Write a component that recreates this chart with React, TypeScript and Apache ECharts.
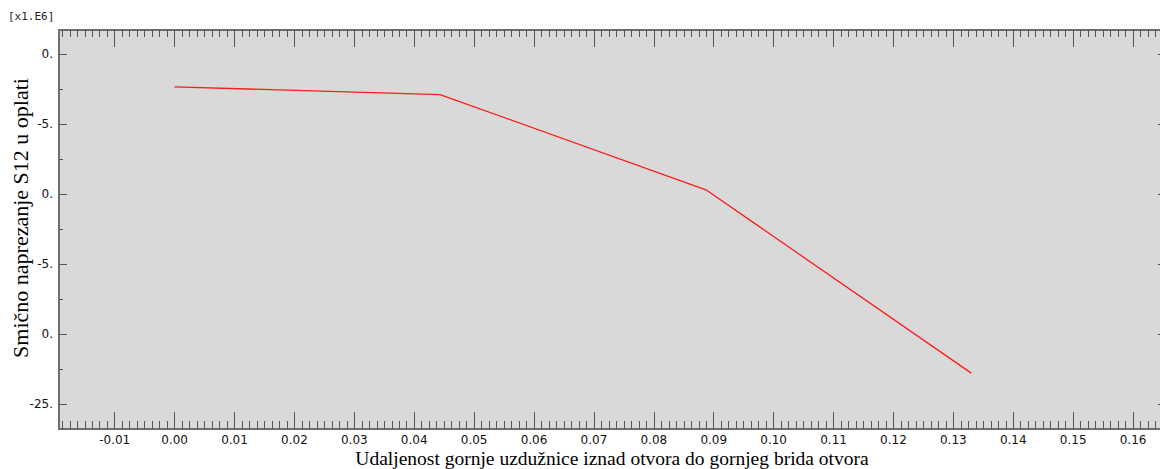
import React, { useEffect, useRef } from "react";
import * as echarts from "echarts";

// distance values (m) and shear stress S12 (x1.E6)
const distance = [0, 0.0443, 0.0887, 0.133];
const stressS12 = [-2.35, -2.9, -9.7, -22.8];

const xMajorTicks = [-0.01, 0, 0.01, 0.02, 0.03, 0.04, 0.05, 0.06, 0.07, 0.08, 0.09, 0.1, 0.11, 0.12, 0.13, 0.14, 0.15, 0.16];
const yMajorTicks = [0, -5, -10, -15, -20, -25];
const yTickLabels = ["0.", "-5.", "0.", "-5.", "0.", "-25."];
const yMinorTicks = [-2.5, -7.5, -12.5, -17.5, -22.5];

const xTitle = "Udaljenost gornje uzdužnice iznad otvora do gornjeg brida otvora";
const yTitle = "Smično naprezanje S12 u oplati";
const scaleNote = "[x1.E6]";

const X_MIN = -0.0193;
const X_MAX = 0.1655;
const Y_MIN = -26.79;
const Y_MAX = 1.714;

const xMinorTicks: number[] = [];
for (let i = -24; i <= 132; i++) {
  const v = Math.round(i * 0.00125 * 100000) / 100000;
  if (v > X_MIN && v < X_MAX && i % 8 !== 0) xMinorTicks.push(v);
}

const AXIS_COLOR = "#6e6e6e";
const TICK_COLOR = "#555";

function xAxisDef(position: "top" | "bottom", ticks: number[], length: number, withLabels: boolean, showLine: boolean) {
  return {
    type: "value",
    position,
    min: X_MIN,
    max: X_MAX,
    axisLine: { show: showLine, onZero: false, lineStyle: { color: AXIS_COLOR, width: 2 } },
    axisTick: { show: true, inside: true, length, customValues: ticks, lineStyle: { color: TICK_COLOR, width: 1 } },
    axisLabel: withLabels
      ? { show: true, customValues: ticks, margin: 5, fontFamily: "DejaVu Sans", fontSize: 12, color: "#111", formatter: (v: number) => v.toFixed(2) }
      : { show: false },
    splitLine: { show: false },
  };
}

function yAxisDef(position: "left" | "right", ticks: number[], length: number, withLabels: boolean, showLine: boolean) {
  return {
    type: "value",
    position,
    min: Y_MIN,
    max: Y_MAX,
    axisLine: { show: showLine, onZero: false, lineStyle: { color: AXIS_COLOR, width: 2 } },
    axisTick: { show: true, inside: true, length, customValues: ticks, lineStyle: { color: TICK_COLOR, width: 1 } },
    axisLabel: withLabels
      ? {
          show: true,
          customValues: ticks,
          margin: 6,
          fontFamily: "DejaVu Sans",
          fontSize: 12,
          color: "#111",
          formatter: (v: number) => {
            const idx = yMajorTicks.findIndex((t) => Math.abs(t - v) < 1e-6);
            return idx >= 0 ? yTickLabels[idx] : "";
          },
        }
      : { show: false },
    splitLine: { show: false },
  };
}

export default function App() {
  const ref = useRef<HTMLDivElement>(null);
  useEffect(() => {
    if (!ref.current) return;
    const chart = echarts.init(ref.current, undefined, { renderer: "svg" });
    chart.setOption({
      animation: false,
      backgroundColor: "#ffffff",
      grid: {
        left: 59,
        top: 30,
        right: -6,
        bottom: 40,
        outerBoundsMode: "none",
        containLabel: false,
        show: true,
        backgroundColor: "#d9d9d9",
        borderWidth: 0,
      },
      graphic: [
        {
          type: "text",
          left: 8,
          top: 11,
          style: { text: scaleNote, fontFamily: "DejaVu Sans Mono", fontSize: 11, fill: "#222" },
        },
        {
          type: "text",
          x: 20,
          y: 218,
          rotation: Math.PI / 2,
          style: {
            text: yTitle,
            fontFamily: "Liberation Serif",
            fontSize: 22,
            fill: "#000",
            align: "center",
            verticalAlign: "middle",
          },
        },
        {
          type: "text",
          x: 612,
          y: 458,
          style: {
            text: xTitle,
            fontFamily: "Liberation Serif",
            fontSize: 19.5,
            fill: "#000",
            align: "center",
            verticalAlign: "middle",
          },
        },
      ],
      xAxis: [
        xAxisDef("bottom", xMajorTicks, 17, true, true),
        xAxisDef("bottom", xMinorTicks, 8, false, false),
        xAxisDef("top", xMajorTicks, 17, false, true),
        xAxisDef("top", xMinorTicks, 7, false, false),
      ],
      yAxis: [
        yAxisDef("left", yMajorTicks, 8, true, true),
        yAxisDef("left", yMinorTicks, 4, false, false),
        yAxisDef("right", yMajorTicks, 8, false, true),
        yAxisDef("right", yMinorTicks, 4, false, false),
      ],
      series: [
        {
          type: "line",
          xAxisIndex: 0,
          yAxisIndex: 0,
          data: distance.map((d, i) => [d, stressS12[i]]),
          showSymbol: false,
          symbol: "none",
          lineStyle: { color: "#ff1a1a", width: 1.3 },
        },
      ],
    });
    return () => chart.dispose();
  }, []);
  return <div ref={ref} style={{ position: "absolute", left: 0, top: 0, width: 1160, height: 469 }} />;
}
